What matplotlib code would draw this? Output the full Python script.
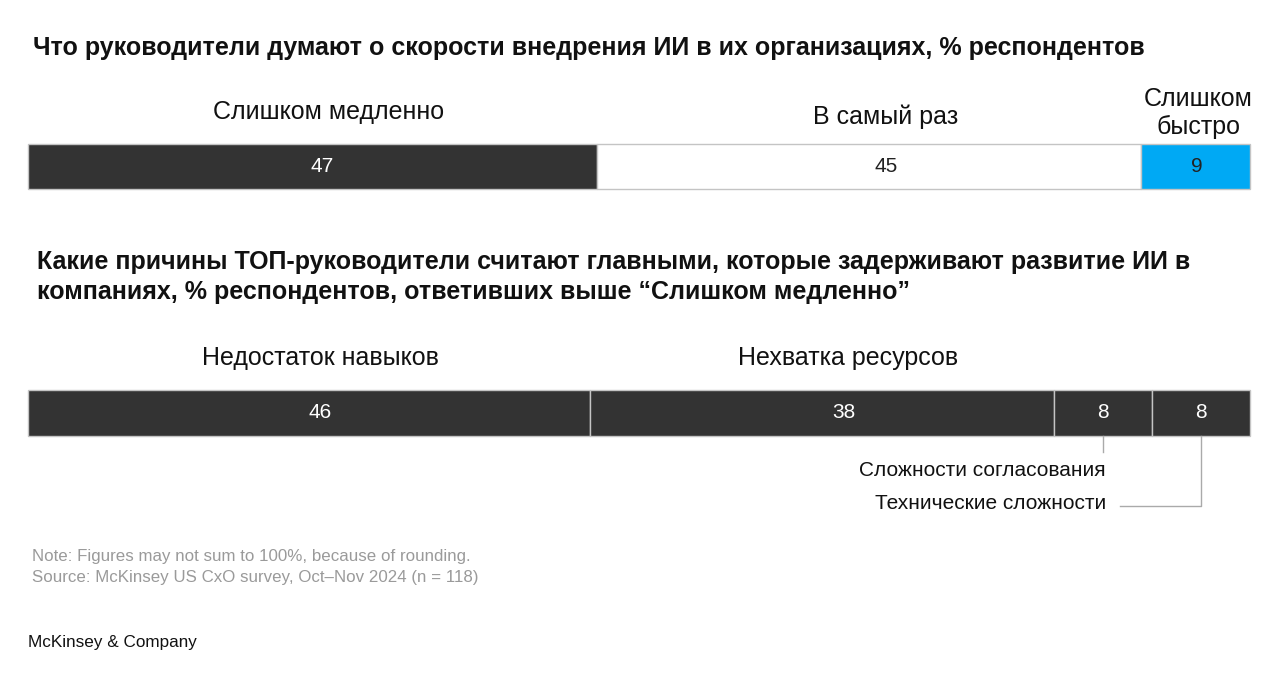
import matplotlib
matplotlib.use("Agg")
import matplotlib.pyplot as plt
import numpy as np
from matplotlib.transforms import offset_copy

plt.rcParams['font.family'] = ['Liberation Sans', 'DejaVu Sans']

# ---- data ----
speed_labels = ["Слишком медленно", "В самый раз", "Слишком\nбыстро"]
speed_values = [47, 45, 9]
speed_colors = ["#333333", "#ffffff", "#00a9f4"]
speed_text_colors = ["#ffffff", "#222222", "#222222"]

reason_labels = ["Недостаток навыков", "Нехватка ресурсов",
                 "Сложности согласования", "Технические сложности"]
reason_values = [46, 38, 8, 8]
reason_colors = ["#333333"] * 4

title1 = "Что руководители думают о скорости внедрения ИИ в их организациях, % респондентов"
title2 = ("Какие причины ТОП-руководители считают главными, которые задерживают развитие ИИ в\n"
          "компаниях, % респондентов, ответивших выше \u201cСлишком медленно\u201d")
note = ("Note: Figures may not sum to 100%, because of rounding.\n"
        "Source: McKinsey US CxO survey, Oct\u2013Nov 2024 (n = 118)")
brand = "McKinsey & Company"

# style: horizontal nudges (pixels) of value labels and category labels
speed_val_dx = [10, 17, 1]
speed_lab_dx = [16, 17, 3]
reason_val_dx = [11, 22, 0, 0]
reason_lab_dx = [11, 26]

W, H = 1280, 683
fig = plt.figure(figsize=(W / 100, H / 100), dpi=100)
fig.patch.set_facecolor("white")


def fy(py):
    return 1 - py / H


def add_bar_axes(top_px, bot_px):
    ax = fig.add_axes([28 / W, fy(bot_px), 1222 / W, (bot_px - top_px) / H])
    ax.set_axis_off()
    ax.set_ylim(0, 1)
    return ax


def nudged(ax, dx):
    return offset_copy(ax.transData, fig=fig, x=dx * 0.72, y=0, units="points")


# ---- titles ----
fig.text(33 / W, fy(48), title1, fontsize=18, fontweight="bold",
         ha="left", va="center", color="#111111")
fig.text(37 / W, fy(277), title2, fontsize=18, fontweight="bold",
         ha="left", va="center", color="#111111", linespacing=1.32)

# ---- bar 1 ----
ax1 = add_bar_axes(144, 189)
total1 = sum(speed_values)
ax1.set_xlim(0, total1)
lefts1 = np.concatenate([[0], np.cumsum(speed_values)[:-1]])
bars = ax1.barh([0.5], speed_values, left=lefts1, height=1.0, color=speed_colors,
                edgecolor="#c4c4c4", linewidth=1.0)
for b in bars:
    b.set_clip_on(False)
label_y1 = [1.71, 1.6, 1.69]
for i, (l, v) in enumerate(zip(lefts1, speed_values)):
    c = l + v / 2
    ax1.text(c, 0.5, str(v), ha="center", va="center", fontsize=15,
             color=speed_text_colors[i], transform=nudged(ax1, speed_val_dx[i]))
    ax1.text(c, label_y1[i], speed_labels[i], ha="center", va="center",
             fontsize=18, color="#111111", linespacing=1.22, clip_on=False,
             transform=nudged(ax1, speed_lab_dx[i]))

# ---- bar 2 ----
ax2 = add_bar_axes(390, 436)
total2 = sum(reason_values)
ax2.set_xlim(0, total2)
lefts2 = np.concatenate([[0], np.cumsum(reason_values)[:-1]])
bars = ax2.barh([0.5], reason_values, left=lefts2, height=1.0, color=reason_colors,
                edgecolor="#c4c4c4", linewidth=1.0)
for b in bars:
    b.set_clip_on(False)
for i, (l, v) in enumerate(zip(lefts2, reason_values)):
    c = l + v / 2
    ax2.text(c, 0.5, str(v), ha="center", va="center", fontsize=15,
             color="#ffffff", transform=nudged(ax2, reason_val_dx[i]))
    if i < 2:
        ax2.text(c, 1.70, reason_labels[i], ha="center", va="center",
                 fontsize=18, color="#111111", clip_on=False,
                 transform=nudged(ax2, reason_lab_dx[i]))

# callouts for the two small segments
c3 = lefts2[2] + reason_values[2] / 2
c4 = lefts2[3] + reason_values[3] / 2
lc = "#aaaaaa"
ax2.plot([c3, c3], [0, -0.35], color=lc, lw=1.0, clip_on=False)
ax2.text(c3 + 0.2, -0.74, reason_labels[2], ha="right", va="center",
         fontsize=15, color="#111111", clip_on=False)
ax2.plot([c4, c4, c3 + 1.4], [0, -1.52, -1.52], color=lc, lw=1.0, clip_on=False)
ax2.text(c3 + 0.2, -1.46, reason_labels[3], ha="right", va="center",
         fontsize=15, color="#111111", clip_on=False)

# ---- footer ----
fig.text(32 / W, fy(567), note, fontsize=12.2, color="#9a9a9a",
         ha="left", va="center", linespacing=1.45)
fig.text(28 / W, fy(643), brand, fontsize=12.3, color="#111111",
         ha="left", va="center")

fig.savefig("out.png", dpi=100, facecolor="white")
